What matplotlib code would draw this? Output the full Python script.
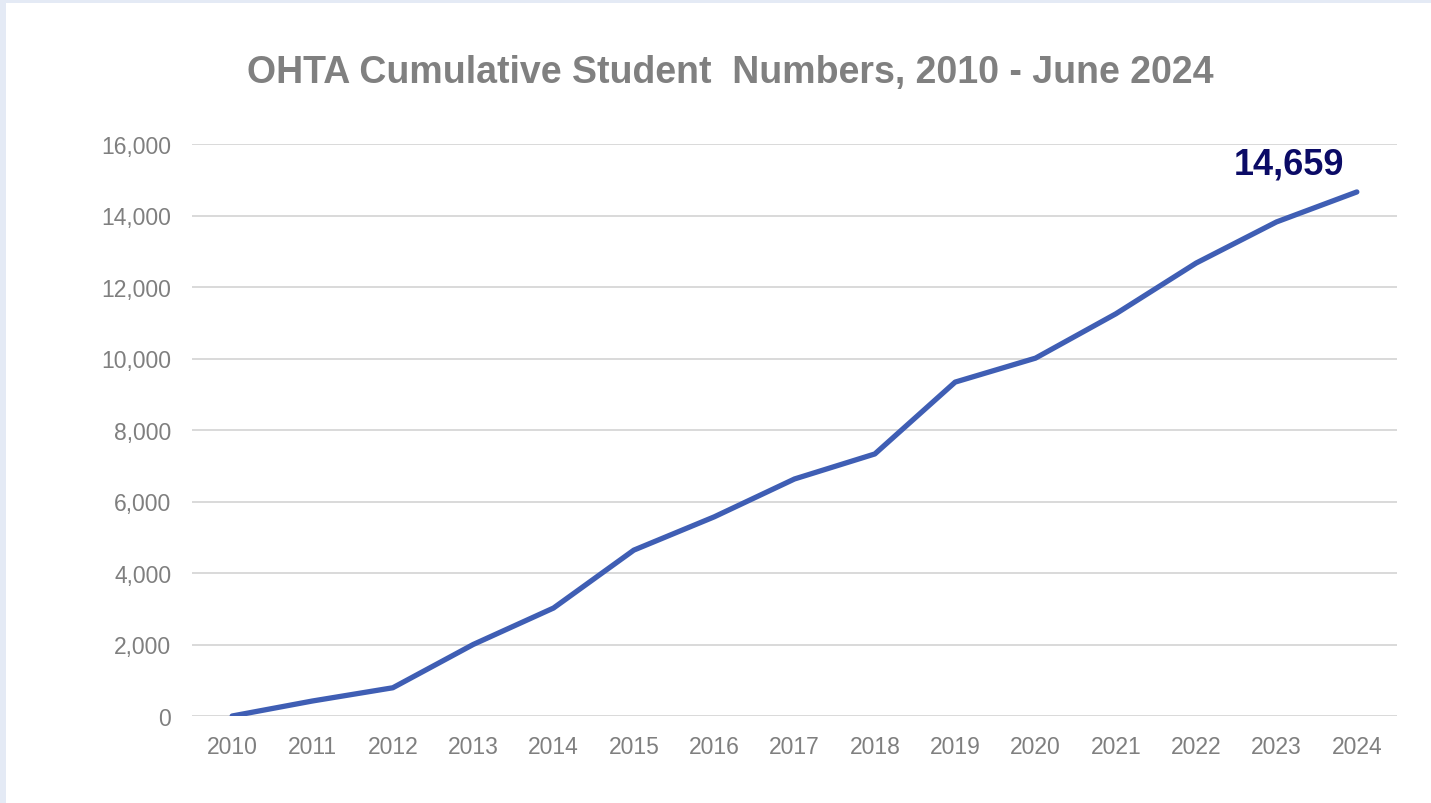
import matplotlib
matplotlib.use('Agg')
import matplotlib.pyplot as plt
from matplotlib.patches import Rectangle
from matplotlib.ticker import FuncFormatter

plt.rcParams['font.family'] = ['Liberation Sans', 'DejaVu Sans']

years = ['2010', '2011', '2012', '2013', '2014', '2015', '2016', '2017',
         '2018', '2019', '2020', '2021', '2022', '2023', '2024']
students = [0, 420, 790, 2000, 3020, 4640, 5570, 6630, 7330, 9340,
            10010, 11250, 12670, 13820, 14659]

fig = plt.figure(figsize=(14.31, 8.04), dpi=100)
fig.patch.set_facecolor('#e4eaf5')
# white slide panel
fig.patches.append(Rectangle((6 / 1431, 0), 1 - 6 / 1431, 1 - 4 / 804,
                             transform=fig.transFigure, facecolor='white',
                             edgecolor='none', zorder=-5))

ax = fig.add_axes([192 / 1431, 1 - 717 / 804, (1397 - 192) / 1431, (717 - 145) / 804])
ax.set_facecolor('none')
ax.set_zorder(2)

x = list(range(len(years)))
ax.plot(x, students, color='#3f5eb4', linewidth=3.8, solid_capstyle='round',
        solid_joinstyle='round', zorder=3)

ax.set_xlim(-0.5, len(years) - 0.5)
ax.set_ylim(0, 16000)
ax.set_yticks(range(0, 16001, 2000))
ax.yaxis.set_major_formatter(FuncFormatter(lambda v, p: f'{int(v):,}'))
ax.set_xticks(x)
ax.set_xticklabels(years)

ax.grid(axis='y', color='#d9d9d9', linewidth=1.4)
ax.set_axisbelow(True)
for s in ax.spines.values():
    s.set_visible(False)
ax.tick_params(length=0, labelsize=16.5, colors='#7f7f7f')
ax.tick_params(axis='x', pad=14)
ax.tick_params(axis='y', pad=15)

ax.annotate(f'{students[-1]:,}', xy=(x[-1], students[-1]), xytext=(-49, 20),
            textcoords='offset points', ha='center', va='center',
            fontsize=26, fontweight='bold', color='#0b0b66')

fig.text(730 / 1431, 1 - 73 / 804, 'OHTA Cumulative Student  Numbers, 2010 - June 2024',
         ha='center', va='center', fontsize=27, fontweight='bold', color='#808080',
         zorder=3)

fig.savefig('out.png', dpi=100, facecolor=fig.get_facecolor())
